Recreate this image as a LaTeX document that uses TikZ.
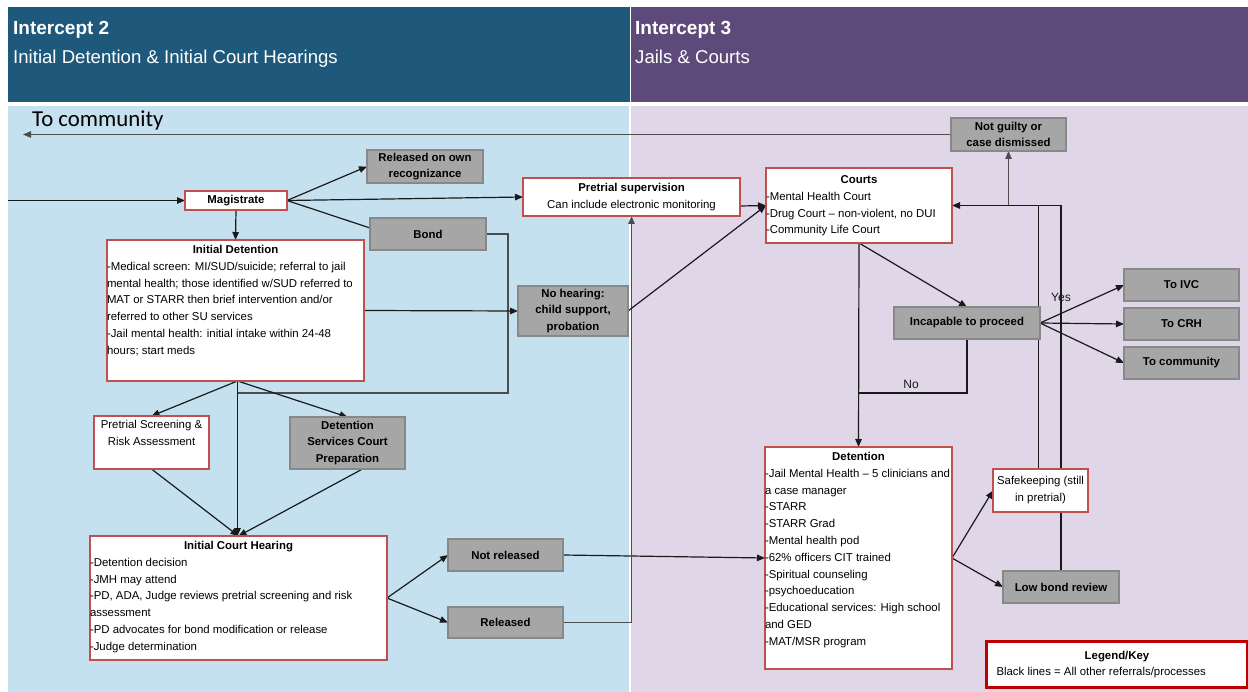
\documentclass[tikz,border=0pt]{standalone}
\usepackage{fontspec}
\setmainfont{Liberation Sans}
\newfontfamily\calibfont{Carlito}
\usetikzlibrary{arrows.meta,calc}

\definecolor{hdrblue}{HTML}{1E587A}
\definecolor{hdrpurple}{HTML}{5E4A7A}
\definecolor{bodyblue}{HTML}{C5E1F0}
\definecolor{bodylav}{HTML}{DFD6E8}
\definecolor{boxred}{HTML}{C0504D}
\definecolor{boxgray}{HTML}{A6A6A6}
\definecolor{grayedge}{HTML}{888888}
\definecolor{linek}{HTML}{1A1A1A}
\definecolor{lineg}{HTML}{4D4D4D}
\definecolor{legendred}{HTML}{C00000}

\pgfdeclarelayer{panels}
\pgfdeclarelayer{wires}
\pgfsetlayers{panels,wires,main}

% box with a centred bold title and a ragged list below it, top aligned
% #1 width, #2 height, #3 first baseline offset, #4 title, #5 list
\newcommand{\listbox}[5]{\parbox[c][#2][t]{#1}{\centering\rule{0pt}{#3}\textbf{#4}\par\raggedright #5}}

\tikzset{
  redbox/.style={draw=boxred, fill=white, line width=1.1pt, inner sep=0pt, outer sep=0pt, anchor=north west},
  graybox/.style={draw=grayedge, fill=boxgray, line width=1.1pt, inner sep=0pt, outer sep=0pt,
    anchor=north west, align=center, font=\fontsize{11.4}{16.2}\selectfont\bfseries},
  wire/.style={draw=linek, line width=1.2pt},
  greywire/.style={draw=lineg, line width=1.2pt},
  arrowed/.style={-{Triangle[length=8pt,width=6.5pt]}},
  hdrtitle/.style={anchor=base west, inner sep=0pt, text=white, font=\fontsize{19}{22}\selectfont\bfseries},
  hdrsub/.style={anchor=base west, inner sep=0pt, text=white, font=\fontsize{18.6}{22}\selectfont},
  decision/.style={inner sep=0pt, text=linek, font=\fontsize{12}{14}\selectfont},
}

\begin{document}
\begin{tikzpicture}[x=1pt, y=-1pt, font=\fontsize{11.4}{16.8}\selectfont]
\useasboundingbox (0,0) rectangle (1248,692);

% ---------- panels ----------
\begin{pgfonlayer}{panels}
  \fill[white] (0,0) rectangle (1248,692);
  \fill[hdrblue] (8.3,7.3) rectangle (629.5,101.7);
  \fill[hdrpurple] (630.5,7.3) rectangle (1248,101.7);
  \fill[bodyblue] (8.3,106) rectangle (628.5,692);
  \fill[bodylav] (631,106) rectangle (1248,692);
\end{pgfonlayer}

\node[hdrtitle] (h2a) at (13,34.3) {Intercept 2};
\node[hdrsub]   (h2b) at (13,63.3) {Initial Detention \& Initial Court Hearings};
\node[hdrtitle] (h3a) at (635,34.3) {Intercept 3};
\node[hdrsub]   (h3b) at (635,63.3) {Jails \& Courts};

\node[anchor=base west, inner sep=0pt, font=\calibfont\fontsize{22.8}{26}\selectfont] (tcl) at (32,126.7) {To community};

% ---------- intercept 2 ----------
\node[redbox, minimum width=102pt, minimum height=19pt, font=\fontsize{11.4}{14}\selectfont\bfseries] (mag) at (185,191) {Magistrate};
\node[graybox, minimum width=116pt, minimum height=33pt] (ror) at (367,150) {Released on own\\recognizance};
\node[graybox, minimum width=116pt, minimum height=32pt] (bond) at (370,218) {Bond};
\node[redbox, minimum width=217pt, minimum height=38pt, align=center] (psup) at (523,178)
  {\textbf{Pretrial supervision}\\Can include electronic monitoring};

\node[redbox] (idet) at (107,240) {\listbox{257pt}{141pt}{13.5pt}{Initial Detention}{%
  -Medical screen:  MI/SUD/suicide; referral to jail\\
  mental health; those identified w/SUD referred to\\
  MAT or STARR then brief intervention and/or\\
  referred to other SU services\\
  -Jail mental health: initial intake within 24-48\\
  hours; start meds}};

\node[graybox, minimum width=110pt, minimum height=50pt] (nh) at (518,286) {No hearing:\\child support,\\probation};

\node[redbox] (scr) at (94,416) {\parbox[c][53pt][t]{115pt}{\centering\rule{0pt}{13pt}Pretrial Screening \&\\Risk Assessment}};
\node[graybox, minimum width=115pt, minimum height=52pt] (dsc) at (290,417) {Detention\\Services Court\\Preparation};

\node[redbox] (ich) at (90,536) {\listbox{297pt}{124pt}{13.5pt}{Initial Court Hearing}{%
  -Detention decision\\
  -JMH may attend\\
  -PD, ADA, Judge reviews pretrial screening and risk\\
  assessment\\
  -PD advocates for bond modification or release\\
  -Judge determination}};

\node[graybox, minimum width=115pt, minimum height=32pt] (nrel) at (448,539) {Not released};
\node[graybox, minimum width=115pt, minimum height=31pt] (rel) at (448,607) {Released};

% ---------- intercept 3 ----------
\node[redbox] (courts) at (766,168) {\listbox{186pt}{75pt}{15.5pt}{Courts}{%
  -Mental Health Court\\
  -Drug Court \textendash{} non-violent, no DUI\\
  -Community Life Court}};

\node[graybox, minimum width=115pt, minimum height=33pt] (ng) at (951,118) {Not guilty or\\case dismissed};
\node[graybox, minimum width=146pt, minimum height=32pt] (inc) at (894,307) {Incapable to proceed};
\node[graybox, minimum width=115pt, minimum height=32pt] (ivc) at (1124,269) {To IVC};
\node[graybox, minimum width=115pt, minimum height=32pt] (crh) at (1124,308) {To CRH};
\node[graybox, minimum width=115pt, minimum height=32pt] (tcm) at (1124,347) {To community};

\node[redbox] (det) at (765,447) {\listbox{187pt}{222pt}{13.5pt}{Detention}{%
  -Jail Mental Health \textendash{} 5 clinicians and\\
  a case manager\\
  -STARR\\
  -STARR Grad\\
  -Mental health pod\\
  -62\% officers CIT trained\\
  -Spiritual counseling\\
  -psychoeducation\\
  -Educational services: High school\\
  and GED\\
  -MAT/MSR program}};

\node[redbox, minimum width=95pt, minimum height=43pt, align=center, font=\fontsize{11.4}{17}\selectfont] (sk) at (993,469) {Safekeeping (still\\in pretrial)};
\node[graybox, minimum width=116pt, minimum height=32pt] (lbr) at (1003,571) {Low bond review};

\node[draw=legendred, line width=3pt, fill=white, inner sep=0pt, anchor=north west,
      minimum width=261pt, minimum height=46pt] (key) at (985,640)
  {\parbox{255pt}{\centering\textbf{Legend/Key}\par\raggedright\hspace*{7pt}Black lines = All other referrals/processes}};

\node[decision] (nolbl) at (911,384) {No};
\node[decision] (yeslbl) at (1061,297) {Yes};

% ---------- connectors ----------
\begin{pgfonlayer}{wires}
  \coordinate (entry) at (8,200.5);
  \coordinate (lvl) at (0,393);
  \coordinate (bondturn) at (508,393);
  \coordinate (leftend) at (23,134.5);
  \coordinate (idb) at ([xshift=2pt]idet.south);
  \coordinate (bondjoin) at (idb |- lvl);
  \coordinate (nojoin) at (courts.south |- lvl);
  \coordinate (skup) at ([xshift=-2pt]sk.north);

  \draw[wire,arrowed] (entry) -- (mag.west);
  \draw[wire,arrowed] (mag.east) -- (ror.west);
  \draw[wire,arrowed] (mag.east) -- (psup.west);
  \draw[wire] (mag.east) -- ([yshift=6pt]bond.west);
  \draw[wire,arrowed] (mag.south) -- (idet.north);

  \draw[greywire] (bond.east) -| (bondturn) -- (bondjoin);
  \draw[wire,arrowed] (idet.east) -- (nh.west);
  \draw[wire,arrowed] (idb) -- (scr.north);
  \draw[wire,arrowed] (idb) -- (dsc.north);
  \draw[wire,arrowed] (idb) -- (idb |- ich.north);
  \draw[wire,arrowed] (scr.south) -- (ich.north);
  \draw[wire,arrowed] ([xshift=15pt]dsc.south) -- (ich.north);

  \draw[wire,arrowed] (ich.east) -- (nrel.west);
  \draw[wire,arrowed] (ich.east) -- (rel.west);
  \draw[wire,arrowed] (nrel.east) -- (det.west);
  \draw[greywire,arrowed] (rel.east) -| (psup.south);

  \draw[wire,arrowed] (nh.east) -- (courts.west);
  \draw[wire,arrowed] ([yshift=-9pt]psup.east) -- (courts.west);

  \draw[wire,arrowed] (courts.south) -- (det.north);
  \draw[wire,arrowed] (courts.south) -- (inc.north);
  \draw[wire] (inc.south) |- (nojoin);
  \draw[wire,arrowed] (inc.east) -- (ivc.west);
  \draw[wire,arrowed] (inc.east) -- (crh.west);
  \draw[wire,arrowed] (inc.east) -- (tcm.west);

  \draw[wire,arrowed] (lbr.north) |- (courts.east);
  \draw[wire] (skup) -- (skup |- courts.east);
  \draw[greywire,arrowed] (ng.south |- courts.east) -- (ng.south);
  \draw[greywire,arrowed] (ng.west) -- (leftend);

  \draw[wire,arrowed] (det.east) -- (sk.west);
  \draw[wire,arrowed] (det.east) -- (lbr.west);
\end{pgfonlayer}
\end{tikzpicture}
\end{document}
